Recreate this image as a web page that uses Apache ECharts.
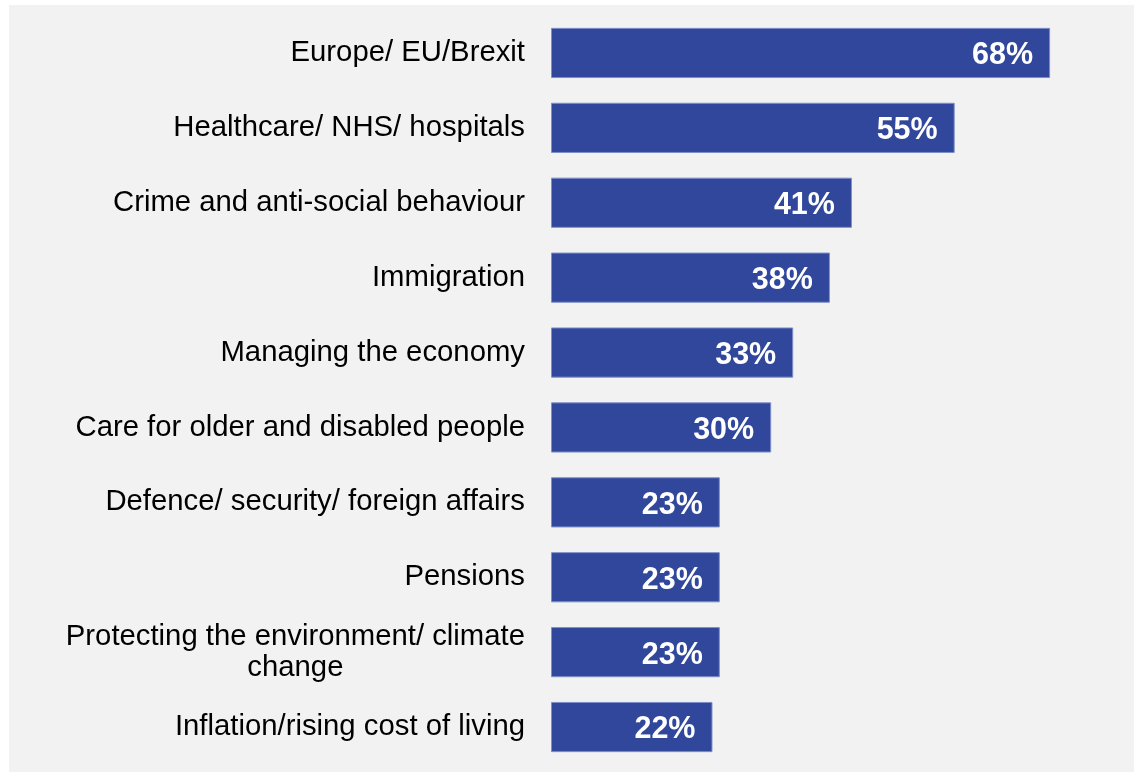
<!DOCTYPE html>
<html>
<head>
<meta charset="utf-8">
<script src="https://cdn.jsdelivr.net/npm/echarts@6/dist/echarts.min.js"></script>
<style>
html,body{margin:0;padding:0;background:#ffffff;}
#bg{position:absolute;left:9px;top:5px;right:0;bottom:0;background:#f2f2f2;}
#chart{position:absolute;left:0;top:0;width:1134px;height:772px;}
</style>
</head>
<body>
<div id="bg"></div>
<div id="chart"></div>
<script>
const categories = [
  'Europe/ EU/Brexit',
  'Healthcare/ NHS/ hospitals',
  'Crime and anti-social behaviour',
  'Immigration',
  'Managing the economy',
  'Care for older and disabled people',
  'Defence/ security/ foreign affairs',
  'Pensions',
  'Protecting the environment/ climate\nchange',
  'Inflation/rising cost of living'
];
const values = [68, 55, 41, 38, 33, 30, 23, 23, 23, 22];

const chart = echarts.init(document.getElementById('chart'), null, {renderer: 'canvas'});
chart.setOption({
  backgroundColor: 'transparent',
  animation: false,
  grid: {left: 551, right: 10.5, top: 15.5, bottom: 7.5, containLabel: false},
  xAxis: {
    type: 'value', min: 0, max: 78,
    show: false
  },
  yAxis: {
    type: 'category',
    data: categories,
    inverse: true,
    axisLine: {show: false},
    axisTick: {show: false},
    axisLabel: {
      margin: 26,
      align: 'right',
      color: '#000000',
      fontFamily: 'Liberation Sans, Arial, sans-serif',
      fontSize: 29.3,
      formatter: function (v) {
        return v.split('\n').map(function (l) { return '{a|' + l + '}'; }).join('\n');
      },
      rich: {
        a: {align: 'center', fontSize: 29.3, lineHeight: 31, color: '#000000', fontFamily: 'Liberation Sans, Arial, sans-serif'}
      }
    }
  },
  series: [{
    type: 'bar',
    data: values,
    barCategoryGap: '33%',
    itemStyle: {color: '#30479b', borderColor: '#7d8fcb', borderWidth: 1},
    label: {
      show: true,
      position: 'insideRight',
      distance: 17,
      offset: [0, 3],
      formatter: '{c}%',
      color: '#ffffff',
      fontWeight: 'bold',
      fontSize: 30.5,
      fontFamily: 'Liberation Sans, Arial, sans-serif'
    }
  }]
});
</script>
</body>
</html>
